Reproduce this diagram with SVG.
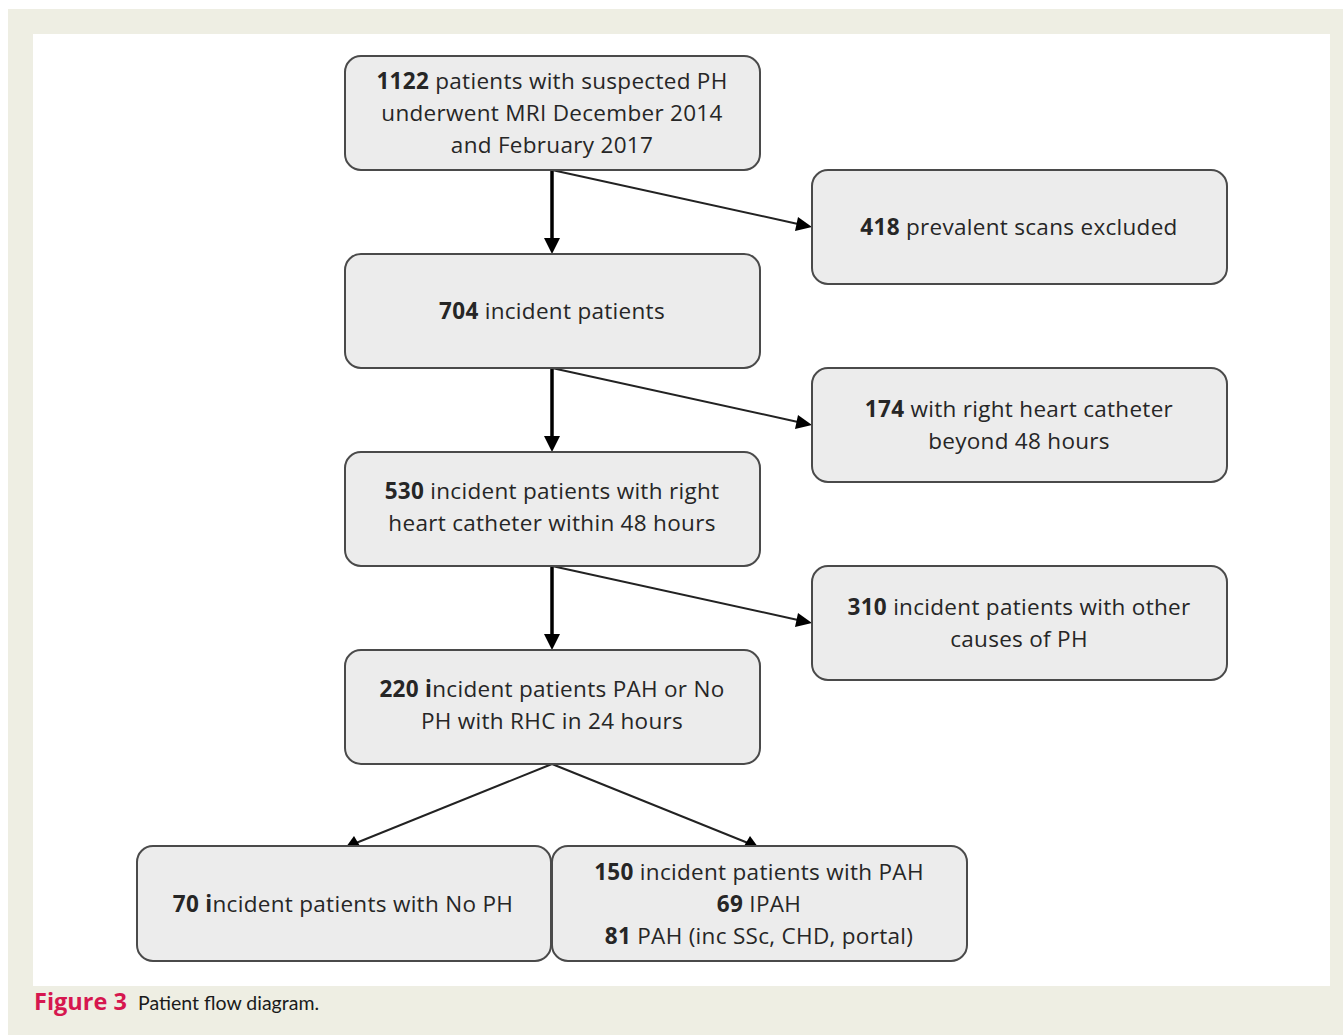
<svg xmlns="http://www.w3.org/2000/svg" width="1343" height="1035" viewBox="0 0 1343 1035">
<defs>
<style>
.box{fill:#ececec;stroke:#4a4a4a;stroke-width:2}
.t{font-family:"Open Sans","DejaVu Sans",sans-serif;font-size:22.5px;letter-spacing:0.3px;fill:#262626;text-anchor:middle}
.b{font-weight:bold}
.thick{stroke:#000;stroke-width:3.5;fill:none}
.thin{stroke:#222;stroke-width:2;fill:none}
</style>
</defs>
<rect x="0" y="0" width="1343" height="1035" fill="#ffffff"/>
<rect x="8" y="9" width="1335" height="1026" fill="#eeeee3"/>
<rect x="33" y="34" width="1297" height="952" fill="#ffffff"/>

<g id="connectors">
<line class="thick" x1="552" y1="170" x2="552" y2="240"/>
<path d="M544,238 L560,238 L552,254 z" fill="#000"/>
<line class="thin" x1="552" y1="170" x2="798" y2="224"/>
<path d="M812,227 L795,231 L798,217 z" fill="#000"/>
<line class="thick" x1="552" y1="368" x2="552" y2="438"/>
<path d="M544,436 L560,436 L552,452 z" fill="#000"/>
<line class="thin" x1="552" y1="368" x2="798" y2="422"/>
<path d="M812,425 L795,429 L798,415 z" fill="#000"/>
<line class="thick" x1="552" y1="566" x2="552" y2="636"/>
<path d="M544,634 L560,634 L552,650 z" fill="#000"/>
<line class="thin" x1="552" y1="566" x2="798" y2="620"/>
<path d="M812,623 L795,627 L798,613 z" fill="#000"/>
<line class="thin" x1="552" y1="764" x2="356" y2="843"/>
<path d="M346,847 L354,836 L360,846 z" fill="#000"/>
<line class="thin" x1="552" y1="764" x2="748" y2="843"/>
<path d="M758,847 L744,846 L750,836 z" fill="#000"/>
</g>

<g id="n1">
<rect class="box" x="345" y="56" width="415" height="114" rx="16"/>
<text class="t" x="552" y="89"><tspan class="b">1122</tspan> patients with suspected PH</text>
<text class="t" x="552" y="121">underwent  MRI December 2014</text>
<text class="t" x="552" y="153">and February 2017</text>
</g>
<g id="n2">
<rect class="box" x="812" y="170" width="415" height="114" rx="16"/>
<text class="t" x="1019" y="235"><tspan class="b">418</tspan> prevalent scans excluded</text>
</g>
<g id="n3">
<rect class="box" x="345" y="254" width="415" height="114" rx="16"/>
<text class="t" x="552" y="319"><tspan class="b">704</tspan> incident patients</text>
</g>
<g id="n4">
<rect class="box" x="812" y="368" width="415" height="114" rx="16"/>
<text class="t" x="1019" y="417"><tspan class="b">174</tspan> with right heart catheter</text>
<text class="t" x="1019" y="449">beyond 48 hours</text>
</g>
<g id="n5">
<rect class="box" x="345" y="452" width="415" height="114" rx="16"/>
<text class="t" x="552" y="499"><tspan class="b">530</tspan> incident patients with right</text>
<text class="t" x="552" y="531">heart catheter within 48 hours</text>
</g>
<g id="n6">
<rect class="box" x="812" y="566" width="415" height="114" rx="16"/>
<text class="t" x="1019" y="615"><tspan class="b">310</tspan> incident patients with other</text>
<text class="t" x="1019" y="647">causes of PH</text>
</g>
<g id="n7">
<rect class="box" x="345" y="650" width="415" height="114" rx="16"/>
<text class="t" x="552" y="697"><tspan class="b">220 i</tspan>ncident patients PAH or No</text>
<text class="t" x="552" y="729">PH with RHC in 24 hours</text>
</g>
<g id="n8">
<rect class="box" x="137" y="846" width="414" height="115" rx="16"/>
<text class="t" x="343" y="912"><tspan class="b">70 i</tspan>ncident patients with No PH</text>
</g>
<g id="n9">
<rect class="box" x="552" y="846" width="415" height="115" rx="16"/>
<text class="t" x="759" y="880"><tspan class="b">150</tspan> incident patients with PAH</text>
<text class="t" x="759" y="912"><tspan class="b">69</tspan> IPAH</text>
<text class="t" x="759" y="944"><tspan class="b">81</tspan> PAH (inc SSc, CHD, portal)</text>
</g>

<g id="caption">
<text x="34" y="1010" font-family="'Open Sans','DejaVu Sans',sans-serif" font-size="23.5" font-weight="bold" fill="#d6174f">Figure 3</text>
<text x="138" y="1010" font-family="Lato,'Liberation Sans',sans-serif" font-size="19.5" fill="#1a1a1a">Patient flow diagram.</text>
</g>
</svg>
